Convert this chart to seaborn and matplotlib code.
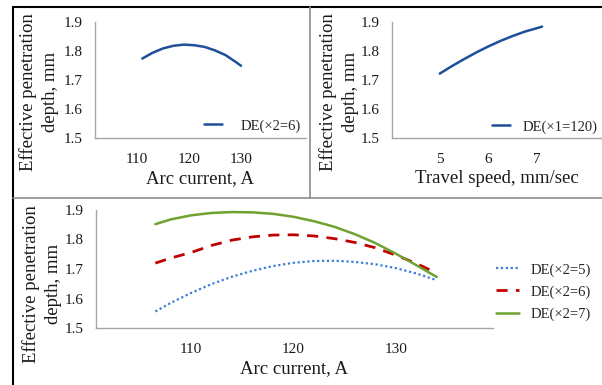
import numpy as np
import pandas as pd
import matplotlib
matplotlib.use("Agg")
import matplotlib.pyplot as plt
from matplotlib.lines import Line2D
import seaborn as sns

# ---------------- data ----------------
tl_current = [111, 113, 115, 117, 119, 121, 123, 125, 127, 129, 130]
tl_depth = [1.774, 1.794, 1.809, 1.818, 1.822, 1.820, 1.814, 1.802, 1.786, 1.762, 1.749]

tr_speed = [5.0, 5.25, 5.5, 5.75, 6.0, 6.25, 6.5, 6.75, 7.0, 7.1]
tr_depth = [1.722, 1.748, 1.772, 1.795, 1.816, 1.835, 1.852, 1.867, 1.879, 1.884]

b_current = [106.5, 108, 110, 112, 114, 116, 118, 120, 122, 124, 126, 128, 130, 132, 134]
b_x2_5 = [1.556, 1.585, 1.619, 1.649, 1.674, 1.694, 1.710, 1.721, 1.727, 1.728, 1.724, 1.716, 1.703, 1.685, 1.662]
b_x2_6 = [1.720, 1.737, 1.756, 1.780, 1.798, 1.809, 1.815, 1.816, 1.812, 1.803, 1.790, 1.772, 1.747, 1.719, 1.686]
b_x2_7 = [1.852, 1.868, 1.882, 1.890, 1.893, 1.892, 1.887, 1.877, 1.862, 1.843, 1.818, 1.788, 1.752, 1.713, 1.673]

y_ticks = [1.5, 1.6, 1.7, 1.8, 1.9]
tl_xticks = [110, 120, 130]
tr_xticks = [5, 6, 7]
b_xticks = [110, 120, 130]

tl_label = "DE(×2=6)"
tr_label = "DE(×1=120)"
b_labels = ["DE(×2=5)", "DE(×2=6)", "DE(×2=7)"]
ylabel_text = "Effective penetration\ndepth, mm"

# ---------------- style ----------------
sns.set_theme(style="white")
plt.rcParams["font.family"] = ["Liberation Serif", "DejaVu Serif"]

W, H = 602, 385
fig = plt.figure(figsize=(W / 100, H / 100), dpi=100)
fig.patch.set_facecolor("white")


def rect(l, t, r, b):
    return [l / W, 1 - b / H, (r - l) / W, (b - t) / H]


TICK_FS = 11
LAB_FS = 13.5
LEG_FS = 10.5
SPINE_C = "#a6a6a6"
TXT_C = "#1a1a1a"


def style_ax(ax, xlim, xticks):
    ax.set_xlim(*xlim)
    ax.set_ylim(1.5, 1.9)
    ax.set_xticks(xticks)
    ax.set_yticks(y_ticks)
    ax.set_yticklabels([f"{v:.1f}" for v in y_ticks])
    ax.set_xticklabels([str(v) for v in xticks])
    for s in ["top", "right"]:
        ax.spines[s].set_visible(False)
    for s in ["left", "bottom"]:
        ax.spines[s].set_color(SPINE_C)
        ax.spines[s].set_linewidth(1.0)
    ax.tick_params(axis="both", length=0, labelsize=TICK_FS, colors=TXT_C)
    ax.tick_params(axis="x", pad=11)
    ax.tick_params(axis="y", pad=9)
    ax.set_ylabel("")
    ax.set_facecolor("white")


# top-left
ax1 = fig.add_axes(rect(95, 22, 306, 138))
df1 = pd.DataFrame({"x": tl_current, "y": tl_depth})
sns.lineplot(data=df1, x="x", y="y", ax=ax1, color="#1f4e9c", linewidth=1.8, label=tl_label)
style_ax(ax1, (101.9, 142.5), tl_xticks)
ax1.set_xlabel("Arc current, A", fontsize=LAB_FS, color=TXT_C, labelpad=3)
ax1.legend(loc="center left", bbox_to_anchor=(204 / W, 1 - 126 / H), bbox_transform=fig.transFigure,
           frameon=False, fontsize=LEG_FS, handlelength=1.2, handletextpad=1.3, borderpad=0, borderaxespad=0)

# top-right
ax2 = fig.add_axes(rect(392, 22, 602, 138))
df2 = pd.DataFrame({"x": tr_speed, "y": tr_depth})
sns.lineplot(data=df2, x="x", y="y", ax=ax2, color="#1f4e9c", linewidth=1.8, label=tr_label)
style_ax(ax2, (4.02, 8.33), tr_xticks)
ax2.set_xlabel("Travel speed, mm/sec", fontsize=LAB_FS, color=TXT_C, labelpad=3)
ax2.legend(loc="center left", bbox_to_anchor=(492 / W, 1 - 127 / H), bbox_transform=fig.transFigure,
           frameon=False, fontsize=LEG_FS, handlelength=1.2, handletextpad=0.9, borderpad=0, borderaxespad=0)

# bottom
ax3 = fig.add_axes(rect(96, 210, 493, 328))
df3 = pd.DataFrame({"x": b_current * 3,
                    "y": b_x2_5 + b_x2_6 + b_x2_7,
                    "s": [b_labels[0]] * len(b_current) + [b_labels[1]] * len(b_current) + [b_labels[2]] * len(b_current)})
styles = {b_labels[0]: ("#3b7dd8", (0, (1, 1.2)), 1.6),
          b_labels[1]: ("#c00000", (0, (4, 3)), 2.0),
          b_labels[2]: ("#6fa22f", "-", 1.8)}
for lab in b_labels:
    c, ls, lw = styles[lab]
    sns.lineplot(data=df3[df3["s"] == lab], x="x", y="y", ax=ax3, color=c, linestyle=ls,
                 linewidth=lw, label=lab)
style_ax(ax3, (100.7, 139.5), b_xticks)
ax3.set_xlabel("Arc current, A", fontsize=LAB_FS, color=TXT_C, labelpad=3)
ax3.legend(loc="center left", bbox_to_anchor=(496 / W, 1 - 292 / H), bbox_transform=fig.transFigure,
           frameon=False, fontsize=LEG_FS, handlelength=1.6, handletextpad=0.8, borderpad=0,
           borderaxespad=0, labelspacing=0.6)

# y labels (chart-level)
for cx, cy in [(39, 92), (339, 92), (42, 284)]:
    fig.text(cx / W, 1 - cy / H, ylabel_text, rotation=90, ha="center", va="center",
             fontsize=LAB_FS, color=TXT_C, linespacing=1.45)

# frame lines
def fline(x0, y0, x1, y1, color, lw):
    fig.add_artist(Line2D([x0 / W, x1 / W], [1 - y0 / H, 1 - y1 / H], transform=fig.transFigure,
                          color=color, linewidth=lw))

fline(13, 7, 13, 385, "black", 1.5)
fline(13, 7, 602, 7, "black", 1.5)
fline(13, 198, 602, 198, "#8c8c8c", 1.2)
fline(310, 7, 310, 198, "#8c8c8c", 1.2)

fig.savefig("out.png", dpi=100, facecolor="white")
